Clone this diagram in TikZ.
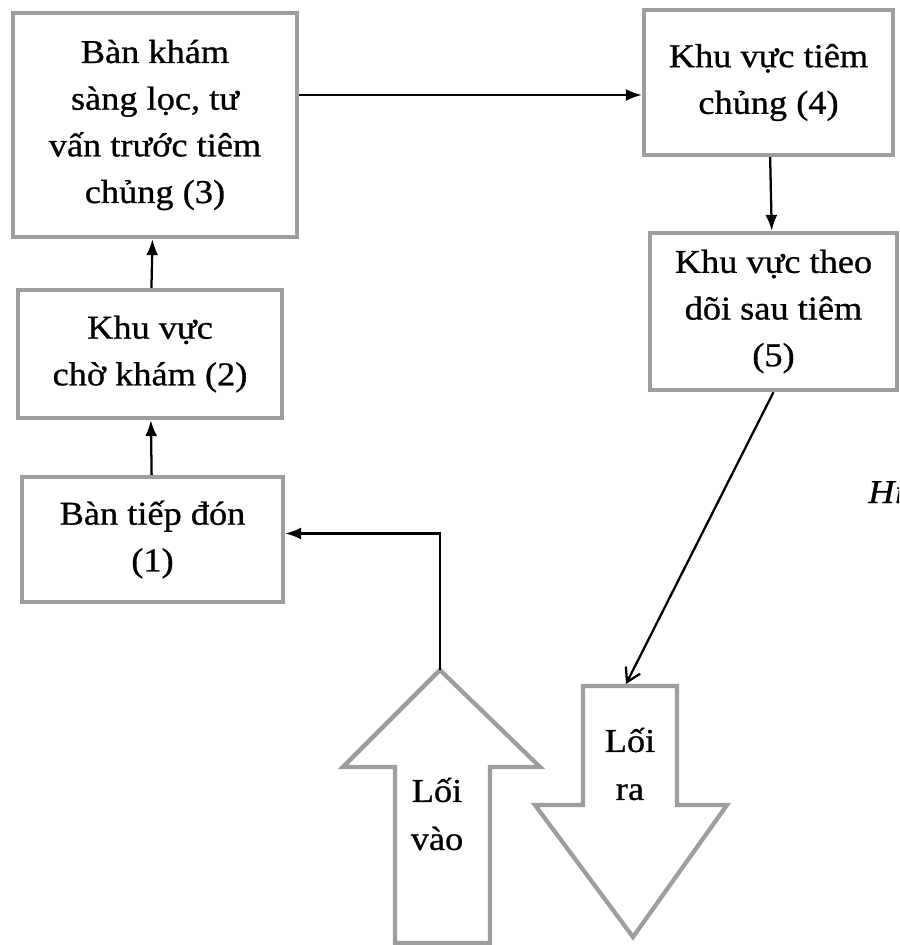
\documentclass[tikz,border=0pt]{standalone}
\usepackage{fontspec}
\setmainfont[FakeStretch=1.09,FakeBold=0.8]{Liberation Serif}
\usetikzlibrary{arrows.meta}

\begin{document}
\begin{tikzpicture}[x=0.75pt,y=-0.75pt,
		box/.style={draw=black!38,line width=3.2pt,align=center,inner sep=0pt,font=\fontsize{25}{35}\selectfont},
		bigarrow/.style={draw=black!38,line width=3.2pt,fill=white,line join=miter},
		lbl/.style={align=center,inner sep=0pt,font=\fontsize{25}{36}\selectfont},
		link/.style={line width=1.7pt,-{Latex[length=12pt,width=9pt]}},
		exitlink/.style={line width=1.7pt,-{Straight Barb[length=10pt,width=12pt]}}]
	%% canvas
	\useasboundingbox (0,0) rectangle (899,945);
	\clip (0,0) rectangle (899,945);
	%% define boxes
	\node (b3) at (155,125) [box,minimum width=213pt,minimum height=168pt] {Bàn khám\\ sàng lọc, tư\\ vấn trước tiêm\\ chủng (3)};
	\node (b4) at (768.5,82.5) [box,minimum width=186.75pt,minimum height=108.75pt] {Khu vực tiêm\\ chủng (4)};
	\node (b5) at (773.5,311.5) [box,minimum width=185.25pt,minimum height=117.75pt] {Khu vực theo\\ dõi sau tiêm\\ (5)};
	\node (b2) at (150,354) [box,minimum width=198pt,minimum height=96pt] {Khu vực\\ chờ khám (2)};
	\node (b1) at (152.5,539.5) [box,minimum width=195.75pt,minimum height=93.75pt] {Bàn tiếp đón\\ (1)};
	%% define entry and exit
	\draw[bigarrow] (395,943) -- (395,767) -- (343,767) -- (440,670) -- (540,767) -- (490,767) -- (490,943) -- cycle;
	\coordinate (intip) at (440,670);
	\node (in) at (437,814) [lbl] {Lối\\ vào};
	\draw[bigarrow] (583,686) -- (677,686) -- (677,805) -- (727,805) -- (633,937) -- (535,805) -- (583,805) -- cycle;
	\coordinate (outtop) at (626,684);
	\node (out) at (630,764) [lbl] {Lối\\ ra};
	%% caption (cut at the edge, as in the scan)
	\node (fig) at (868,503) [anchor=base west,inner sep=0pt,font=\fontsize{25}{35}\selectfont\itshape] {Hi};
	%% define arrows
	\draw[link] (intip) |- ([yshift=4.5pt]b1.east);
	\draw[link] (b1) -- (b2);
	\draw[link] (b2) -- (b3);
	\draw[link] ([yshift=22.5pt]b3.east) coordinate (b3e) -- (b4.west |- b3e);
	\draw[link] (b4) -- (b5);
	\draw[exitlink] (b5.south) -- (outtop);
\end{tikzpicture}
\end{document}
